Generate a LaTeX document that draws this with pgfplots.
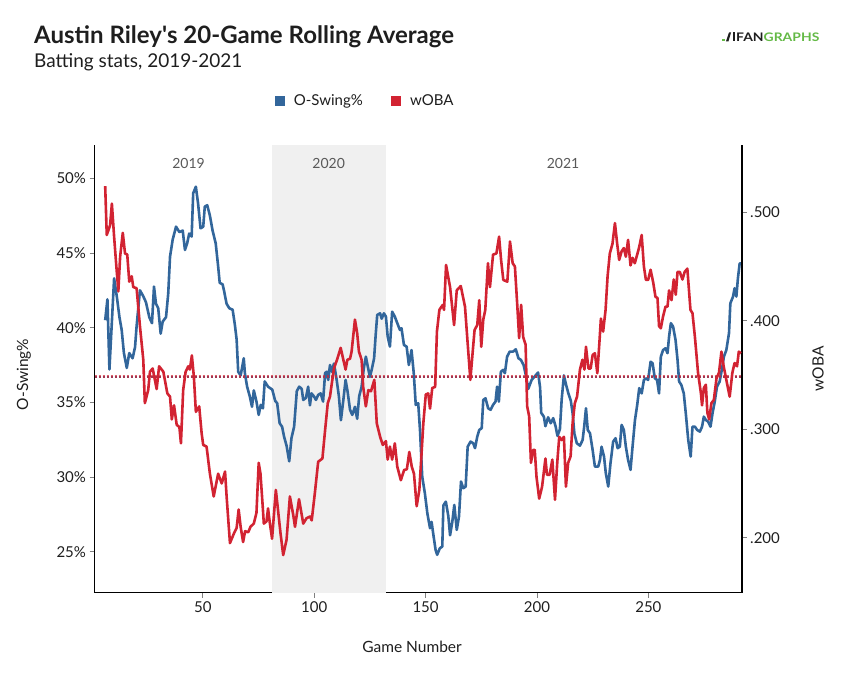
\documentclass[border=0pt]{standalone}
\usepackage{fontspec}
\setmainfont{Lato}
\usepackage{pgfplots}
\pgfplotsset{compat=1.18}
\definecolor{osblue}{RGB}{50,102,155}
\definecolor{wred}{RGB}{210,35,50}
\definecolor{bandgray}{RGB}{240,240,240}
\definecolor{fggreen}{RGB}{100,185,70}
\definecolor{txt}{RGB}{30,30,30}

\pgfplotstableread{
g v
6.2 40.5
7.2 41.9
8.1 37.2
10.2 43.3
11.4 42.1
12.6 40.7
13.6 39.85
14.6 38.3
15.9 37.3
17.0 38.3
18.5 37.95
19.6 38.7
20.3 40.1
21.8 42.5
23.3 42.1
24.5 41.7
26.0 40.7
27.2 40.3
28.1 42.75
29.0 41.6
30.0 41.3
31.1 39.6
32.0 40.4
33.5 40.7
34.5 42.3
35.3 44.75
36.5 45.9
38.0 46.76
39.5 46.4
41.0 46.5
42.0 45.2
43.0 45.65
43.9 46.3
45.0 46.1
45.7 49.0
46.9 49.44
47.9 48.3
49.0 46.65
50.2 46.76
50.9 48.1
52.0 48.2
53.2 47.5
54.4 46.5
55.8 45.65
56.9 44.1
57.6 43.0
58.9 42.9
59.5 42.5
60.7 41.6
61.9 41.3
63.4 41.2
64.4 40.2
65.2 39.2
65.9 37.05
67.0 36.8
68.4 37.95
68.9 36.95
69.9 36.05
71.1 35.4
72.1 34.7
72.9 35.8
74.1 35.05
75.1 34.16
76.0 34.83
77.0 34.6
77.8 36.4
79.3 36.05
81.2 35.85
82.5 35.1
83.4 34.94
84.5 33.6
85.6 33.37
86.5 32.7
87.6 32.1
88.8 31.05
89.8 32.6
91.0 33.37
92.2 35.75
93.3 36.05
94.4 35.9
95.1 35.16
96.3 35.3
97.3 36.05
98.1 34.8
98.8 35.6
99.9 35.4
100.8 35.16
101.8 35.5
102.9 35.6
104.0 35.05
104.9 36.95
105.6 37.05
106.3 36.5
107.1 37.5
107.9 37.05
108.9 37.6
110.1 36.5
111.1 35.4
112.0 33.8
113.1 35.16
114.1 36.5
115.0 35.72
116.1 34.5
117.1 34.16
118.3 34.7
119.3 33.9
120.2 35.4
121.3 36.05
122.3 37.3
123.2 38.06
124.2 37.3
125.0 36.7
125.8 37.17
126.9 37.95
127.6 39.5
128.3 40.85
129.6 40.96
130.3 40.6
131.3 40.96
132.2 40.74
133.0 39.4
134.0 38.73
135.0 41.07
136.2 40.74
137.3 40.3
138.5 39.85
139.2 39.96
140.3 38.84
141.5 38.73
142.5 37.5
143.7 38.5
144.7 36.95
145.6 34.83
146.7 34.94
147.5 33.15
148.5 30.03
149.7 28.9
150.8 27.57
152.0 26.57
152.7 27.0
153.4 26.24
154.5 25.12
155.2 24.79
156.4 25.23
157.5 25.34
158.0 28.1
159.1 28.35
160.2 27.4
161.0 26.1
162.0 27.0
162.9 28.13
164.0 26.46
165.0 27.35
165.9 29.7
166.9 29.25
168.0 29.36
168.9 32.03
170.2 32.37
171.4 32.26
172.2 31.93
173.2 32.7
174.1 33.15
175.2 33.27
175.9 35.16
176.9 35.27
178.1 34.6
179.2 34.5
180.3 34.83
181.4 35.05
182.1 36.05
182.9 35.05
183.8 37.05
184.8 37.17
185.6 36.95
186.6 38.06
187.8 38.4
189.3 38.4
190.5 38.55
191.7 37.95
192.8 37.84
194.0 37.5
194.9 36.9
196.1 35.9
197.6 36.5
199.1 36.75
200.5 37.0
201.4 36.0
201.9 34.3
203.1 34.04
203.8 33.4
205.0 34.0
206.2 33.6
207.3 33.94
208.4 33.37
209.2 32.75
210.3 33.2
211.1 35.2
212.1 36.8
213.2 36.1
214.1 35.6
215.2 35.1
216.0 34.27
216.8 32.9
217.9 32.26
219.3 32.1
220.5 32.48
221.2 33.37
222.0 34.6
222.8 33.15
223.8 32.93
225.0 31.8
226.0 30.7
227.5 30.7
228.3 31.15
229.0 32.03
230.1 31.37
230.9 30.26
232.0 29.36
233.0 30.92
234.2 32.37
235.3 32.6
236.2 31.93
237.2 32.03
238.0 33.49
239.0 33.15
239.9 32.03
240.9 31.15
242.0 30.48
242.9 32.03
244.0 33.82
245.0 34.83
245.9 35.95
247.0 35.6
248.0 36.5
248.9 36.61
249.9 36.5
251.0 37.72
251.9 37.62
252.9 36.61
253.9 36.5
254.8 35.6
255.6 38.06
256.6 38.5
257.7 38.62
258.6 38.29
259.3 39.4
260.1 40.3
261.1 40.07
262.2 39.18
263.1 37.84
263.8 36.39
264.8 36.17
265.9 35.6
266.8 34.27
267.9 32.48
269.0 31.37
269.8 33.37
270.9 33.37
271.9 33.15
273.1 33.04
274.1 33.37
274.9 34.04
275.8 33.82
276.8 33.71
277.9 33.37
278.8 34.27
279.8 35.05
280.8 36.05
282.0 36.39
283.1 37.28
283.9 38.06
285.0 38.5
286.2 39.63
286.8 41.63
288.0 42.08
288.7 42.64
289.5 42.08
290.2 43.31
291.0 44.31
291.6 44.3
}\oswing

\pgfplotstableread{
g v
6.2 .524
6.9 .479
8.4 .488
9.2 .508
10.2 .4775
11.1 .453
12.1 .427
12.9 .459
14.1 .481
15.1 .462
16.1 .461
17.0 .436
18.1 .441
18.8 .431
20.3 .430
21.8 .395
23.3 .364
24.0 .324
25.5 .336
26.3 .353
27.5 .356
29.3 .337
30.4 .358
32.3 .353
34.1 .333
35.3 .330
36.1 .309
37.1 .322
38.3 .304
39.5 .302
40.2 .287
41.2 .336
42.3 .353
43.5 .358
44.2 .355
45.1 .368
46.0 .3485
46.9 .316
48.4 .321
49.5 .296
50.2 .2855
51.7 .284
53.2 .259
54.9 .238
56.9 .259
58.5 .250
60.0 .261
60.7 .238
62.2 .195
64.0 .204
65.2 .209
66.1 .226
67.0 .210
68.1 .196
69.0 .206
70.4 .205
71.4 .210
72.9 .213
74.1 .223
75.1 .269
75.9 .259
76.8 .232
77.4 .213
78.6 .215
79.3 .227
80.0 .215
81.1 .199
82.8 .244
83.9 .223
84.9 .204
86.1 .184
87.6 .198
89.1 .238
90.6 .221
91.4 .210
93.2 .2355
95.1 .213
96.6 .218
98.1 .2195
98.9 .216
100.3 .241
101.8 .270
103.7 .273
104.9 .299
106.1 .324
107.1 .330
107.9 .342
108.9 .356
110.4 .365
111.9 .375
113.1 .364
114.1 .355
114.9 .364
116.1 .365
116.8 .3715
118.3 .401
119.3 .3885
120.1 .3715
121.3 .364
122.0 .339
123.2 .321
124.3 .336
125.5 .335
127.0 .3455
128.1 .3055
129.6 .293
130.8 .2855
132.2 .289
133.0 .272
134.0 .284
135.0 .272
136.2 .287
137.3 .2655
138.9 .253
140.4 .2625
141.6 .263
142.7 .279
143.8 .2655
144.8 .259
146.0 .229
147.2 .244
148.3 .281
149.0 .3055
150.1 .332
151.2 .333
152.0 .319
153.0 .338
154.3 .339
155.1 .390
156.2 .410
157.7 .4146
158.3 .410
159.2 .4514
161.0 .431
162.8 .396
164.0 .428
165.8 .432
167.7 .413
168.9 .379
170.1 .3455
171.1 .370
172.0 .3915
173.2 .396
174.1 .419
175.0 .376
175.9 .401
176.8 .410
178.0 .453
178.9 .431
180.3 .461
181.8 .462
183.0 .4775
183.9 .456
184.9 .4376
186.7 .436
187.9 .473
189.1 .453
190.1 .450
191.2 .413
192.0 .384
192.9 .4146
193.8 .385
194.9 .378
195.6 .321
196.5 .312
197.3 .269
198.3 .281
199.0 .281
199.8 .256
201.0 .236
202.3 .247
203.8 .273
204.5 .258
205.7 .258
206.9 .272
208.1 .235
209.1 .269
210.0 .293
211.1 .290
212.1 .293
213.0 .247
214.0 .269
215.1 .275
216.0 .3055
217.0 .324
218.0 .330
219.3 .355
220.4 .364
221.3 .355
222.0 .376
223.1 .356
224.1 .356
225.0 .3685
226.0 .370
227.1 .3516
228.0 .379
228.7 .402
229.7 .390
230.8 .410
231.7 .441
232.7 .462
233.9 .471
235.0 .490
236.0 .471
236.9 .456
238.0 .464
239.0 .467
239.9 .459
240.9 .4745
242.0 .451
242.9 .458
243.9 .453
245.0 .461
245.9 .468
247.0 .479
248.0 .450
248.9 .4376
249.9 .4376
251.0 .447
252.2 .435
253.2 .422
254.1 .421
254.8 .395
255.6 .393
256.6 .404
257.7 .413
258.6 .413
259.3 .428
260.4 .419
261.4 .438
262.3 .424
263.1 .445
264.1 .445
265.3 .438
266.3 .445
267.5 .448
268.9 .410
269.8 .407
270.9 .385
272.3 .352
273.6 .333
274.1 .322
274.9 .338
275.8 .341
276.5 .315
277.3 .309
278.3 .324
279.4 .327
280.6 .347
281.7 .352
282.8 .3715
283.8 .358
285.0 .3455
286.5 .330
287.7 .352
288.7 .361
289.8 .358
290.6 .3715
291.6 .370
}\woba

\begin{document}
\begin{tikzpicture}[x=1pt,y=1pt]
\path[use as bounding box] (0,0) rectangle (844,687);

\node[anchor=base west, inner sep=0pt, font=\fontsize{24}{28}\selectfont\bfseries, text=txt] at (34,643) {Austin Riley\textquotesingle s 20-Game Rolling Average};
\node[anchor=base west, inner sep=0pt, font=\fontsize{19}{22}\selectfont, text=txt] at (34,619) {Batting stats, 2019-2021};

% FanGraphs wordmark
\fill[fggreen] (722,645.7) rectangle (724.5,648.2);
\fill[txt] (726,645.7) -- (729,654.5) -- (731,654.5) -- (728.5,645.7) -- cycle;
\fill[txt] (732.5,645.7) rectangle (734.5,654.5);
\node[anchor=base west, inner sep=0pt, font=\fontsize{11.8}{14}\selectfont\bfseries] at (736,645.7) {\scalebox{1.18}[1]{\textcolor{txt}{FAN}\textcolor{fggreen}{GRAPHS}}};

\node[rotate=90, font=\fontsize{15.5}{18}\selectfont, text=txt] at (24,312.5) {O-Swing\%};
\node[rotate=90, font=\fontsize{15.5}{18}\selectfont, text=txt] at (818,318) {wOBA};
\node[font=\fontsize{15.5}{18}\selectfont, text=txt] at (412,40) {Game Number};

\begin{axis}[
  at={(94.5pt,94.3pt)}, anchor=south west,
  scale only axis, width=647.2pt, height=447.7pt,
  xmin=1.4, xmax=291.9, ymin=22.255, ymax=52.23,
  axis x line*=bottom, axis y line*=left,
  axis line style={-, line width=1.6pt, black},
  tick align=outside, major tick length=5pt,
  tick style={draw=gray, line width=0.8pt},
  xtick={50,100,150,200,250},
  ytick={25,30,35,40,45,50},
  yticklabels={25\%,30\%,35\%,40\%,45\%,50\%},
  /pgf/number format/assume math mode=true,
  tick label style={font=\fontsize{15}{18}\selectfont, text=txt},
  legend style={at={(0.418,1.098)}, anchor=center, draw=none, fill=none,
    font=\fontsize{15}{18}\selectfont, text=txt,
    /tikz/every even column/.append style={column sep=26pt}},
  legend columns=2,
  clip=false,
]
\addplot[fill=bandgray, draw=none, forget plot] coordinates {(81.2,22.255) (132.1,22.255) (132.1,52.23) (81.2,52.23)} -- cycle;
\node[font=\fontsize{14}{16}\selectfont, text=black!65] at (axis cs:43.6,51.0) {2019};
\node[font=\fontsize{14}{16}\selectfont, text=black!65] at (axis cs:106.5,51.0) {2020};
\node[font=\fontsize{14}{16}\selectfont, text=black!65] at (axis cs:211.7,51.0) {2021};
\addplot[osblue, line width=2.6pt, line join=round, forget plot] table[x=g,y=v] {\oswing};
\addplot[osblue, line width=2.2pt, dash pattern=on 2pt off 2pt, forget plot] coordinates {(1.4,36.72) (291.9,36.72)};
\addlegendimage{legend image code/.code={\fill[osblue] (0pt,-4.5pt) rectangle (9pt,4.5pt); \path[draw=none,fill=none] (0pt,-4.5pt) rectangle (17pt,4.5pt);}}
\addlegendentry{O-Swing\%}
\addlegendimage{legend image code/.code={\fill[wred] (0pt,-4.5pt) rectangle (9pt,4.5pt); \path[draw=none,fill=none] (0pt,-4.5pt) rectangle (17pt,4.5pt);}}
\addlegendentry{wOBA}
\end{axis}

\begin{axis}[
  at={(94.5pt,94.3pt)}, anchor=south west,
  scale only axis, width=647.2pt, height=447.7pt,
  xmin=1.4, xmax=291.9, ymin=0.1493, ymax=0.5620,
  axis x line=none, axis y line*=right,
  axis line style={-, line width=1.6pt, black},
  tick align=outside, major tick length=5pt,
  tick style={draw=gray, line width=0.8pt},
  ytick={0.2,0.3,0.4,0.5},
  yticklabels={.200,.300,.400,.500},
  tick label style={font=\fontsize{15}{18}\selectfont, text=txt},
]
\addplot[wred, line width=2.6pt, line join=round] table[x=g,y=v] {\woba};
\addplot[wred, opacity=0.7, line width=2.2pt, dash pattern=on 2pt off 2pt] coordinates {(1.4,0.3485) (291.9,0.3485)};
\end{axis}
\end{tikzpicture}
\end{document}
